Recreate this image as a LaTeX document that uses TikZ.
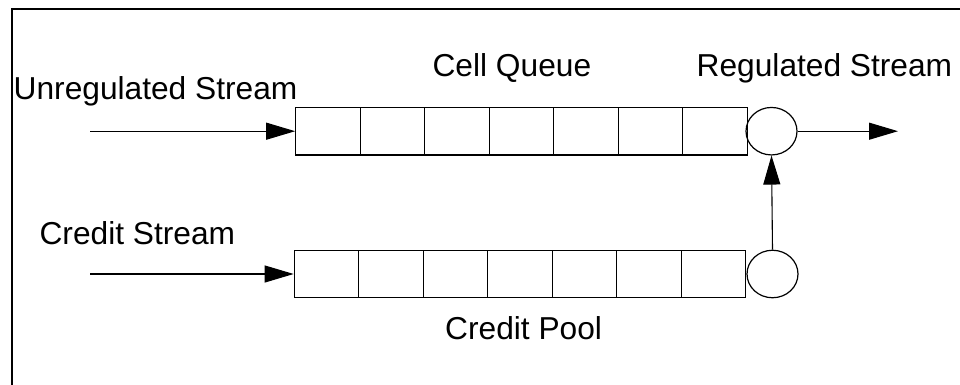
\documentclass[tikz,border=0pt]{standalone}
\usepackage{fontspec}
\setmainfont{Liberation Sans}
\usepackage{tikz}
\usetikzlibrary{positioning, arrows.meta}
\usetikzlibrary{shapes, positioning}

\begin{document}
\begin{tikzpicture}[x=1pt, y=-1pt,
    cell/.style={rectangle, draw=black, line width=1.2pt, inner sep=0pt, minimum width=64.5pt, minimum height=47.5pt},
    gate/.style={ellipse, draw=black, line width=1.2pt, inner sep=0pt, minimum width=51pt, minimum height=47.5pt},
    flow/.style={line width=1.1pt, -{Triangle[length=29pt, width=17pt]}},
    lbl/.style={inner sep=0pt, anchor=base west, font=\fontsize{31.7}{38}\selectfont}]
            \useasboundingbox (0, 0) rectangle (960, 385);
            \draw[line width=2pt] (12, 386) -- (12, 9) -- (961, 9);

            \node[cell] (q1) at (328, 131.2) {};
            \node[cell] (q2) at (392.5, 131.2) {};
            \node[cell] (q3) at (457, 131.2) {};
            \node[cell] (q4) at (521.5, 131.2) {};
            \node[cell] (q5) at (586, 131.2) {};
            \node[cell] (q6) at (650.5, 131.2) {};
            \node[cell] (q7) at (715, 131.2) {};
            \node[gate] (reg) at (771.5, 131.2) {};

            \node[cell] (c1) at (326.5, 274) {};
            \node[cell] (c2) at (391, 274) {};
            \node[cell] (c3) at (455.5, 274) {};
            \node[cell] (c4) at (520, 274) {};
            \node[cell] (c5) at (584.5, 274) {};
            \node[cell] (c6) at (649, 274) {};
            \node[cell] (c7) at (713.5, 274) {};
            \node[gate] (pool) at (772.5, 274) {};

            \node[lbl] (unreg) at (13.5, 100) {Unregulated Stream};
            \node[lbl] (cellq) at (432.4, 77) {Cell Queue};
            \node[lbl] (regs) at (696.5, 77) {Regulated Stream};
            \node[lbl] (creds) at (39.4, 244) {Credit Stream};
            \node[lbl] (credp) at (445, 339) {Credit Pool};

            \coordinate (in) at (90, 131.2);
            \coordinate (out) at (898, 131.2);
            \coordinate (cin) at (90, 274);

            \draw[flow] (in) -- (q1.west);
            \draw[flow] (reg.east) -- (out);
            \draw[flow] (cin) -- (c1.west);
            \draw[flow] (pool.north) -- (reg.south);
        \end{tikzpicture}
\end{document}
